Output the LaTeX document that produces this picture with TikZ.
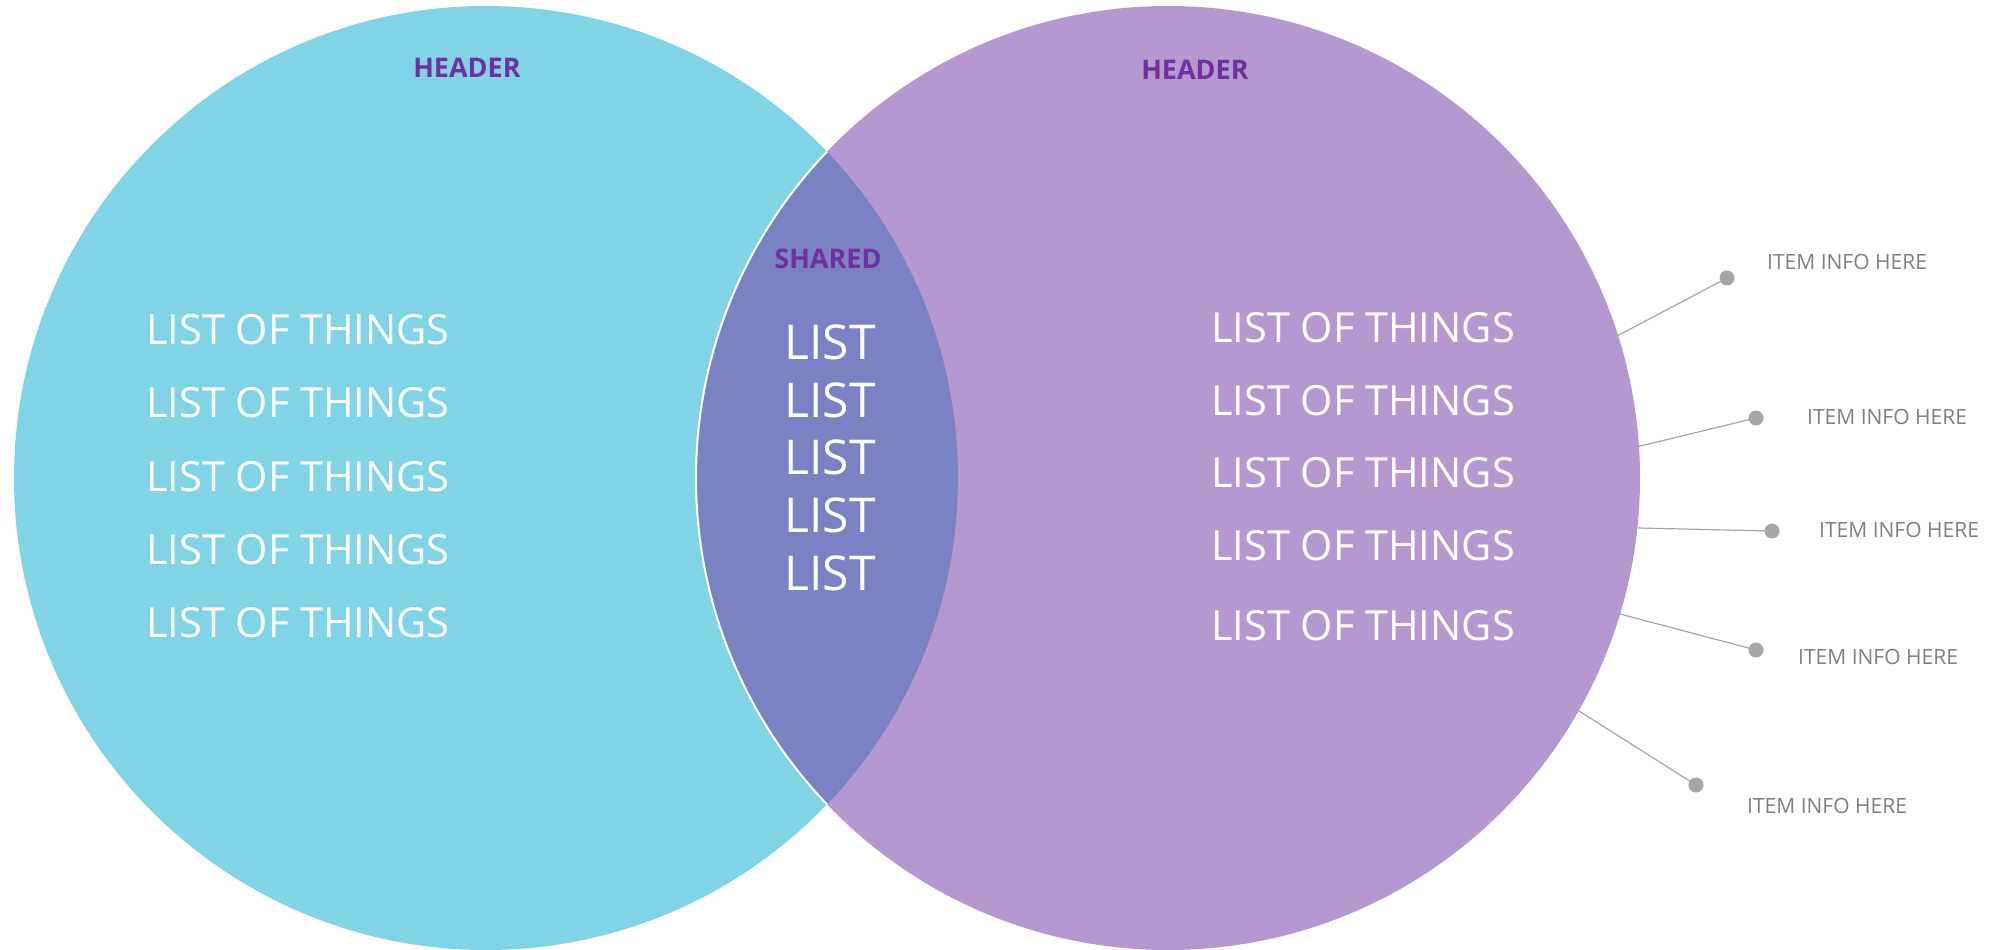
\documentclass[tikz,border=0pt]{standalone}
\usepackage{fontspec}
\setmainfont{Open Sans}
\definecolor{cyanc}{HTML}{81D3E6}
\definecolor{purc}{HTML}{B598CF}
\definecolor{lensc}{HTML}{7A82C3}
\definecolor{headc}{HTML}{7030A0}
\definecolor{dotc}{HTML}{A6A6A6}
\definecolor{itemc}{HTML}{808080}
\tikzset{
  head/.style={inner sep=0, text=headc, font=\fontsize{27}{32}\selectfont\bfseries},
  bigitem/.style={inner sep=0, anchor=west, text=white, font=\fontsize{41.5}{50}\selectfont},
  shareditem/.style={inner sep=0, text=white, font=\fontsize{48}{56}\selectfont},
  info/.style={inner sep=0, anchor=west, text=itemc, font=\fontsize{21}{25}\selectfont},
  dotn/.style={circle, fill=dotc, minimum size=15pt, inner sep=0},
  lead/.style={draw=dotc, line width=1.2pt},
}
\begin{document}
\begin{tikzpicture}[x=1pt,y=-1pt]
\useasboundingbox (0,0) rectangle (2013,950);
\fill[white] (0,0) rectangle (2013,950);
\node[circle, minimum size=944pt, inner sep=0, fill=cyanc] (L) at (486,478) {};
\node[circle, minimum size=944pt, inner sep=0, fill=purc] (R) at (1168,478) {};
\begin{scope}
  \clip (L.center) circle (472);
  \fill[lensc] (R.center) circle (472);
  \draw[white, line width=2pt] (R.center) circle (472);
\end{scope}
% headers
\node[head] (hl) at (467,68) {HEADER};
\node[head] (hr) at (1195,70) {HEADER};
\node[head] (hs) at (828,259) {SHARED};
% left list
\node[bigitem] (l1) at (146,330) {LIST OF THINGS};
\node[bigitem] (l2) at (146,403) {LIST OF THINGS};
\node[bigitem] (l3) at (146,477) {LIST OF THINGS};
\node[bigitem] (l4) at (146,550) {LIST OF THINGS};
\node[bigitem] (l5) at (146,623) {LIST OF THINGS};
% shared list
\node[shareditem] (s1) at (830,342) {LIST};
\node[shareditem] (s2) at (830,400) {LIST};
\node[shareditem] (s3) at (830,457.5) {LIST};
\node[shareditem] (s4) at (830,515) {LIST};
\node[shareditem] (s5) at (830,573) {LIST};
% right list
\node[bigitem] (r1) at (1211,328) {LIST OF THINGS};
\node[bigitem] (r2) at (1211,400.5) {LIST OF THINGS};
\node[bigitem] (r3) at (1211,473) {LIST OF THINGS};
\node[bigitem] (r4) at (1211,546) {LIST OF THINGS};
\node[bigitem] (r5) at (1211,626) {LIST OF THINGS};
% callouts
\coordinate (c1) at (1617,336);
\coordinate (c2) at (1632,448);
\coordinate (c3) at (1638,528);
\coordinate (c4) at (1620,614);
\coordinate (c5) at (1579,711);
\node[dotn] (d1) at (1727,278) {};
\node[dotn] (d2) at (1756,418) {};
\node[dotn] (d3) at (1772,531) {};
\node[dotn] (d4) at (1756,650) {};
\node[dotn] (d5) at (1696,785) {};
\draw[lead] (c1) -- (d1.center);
\draw[lead] (c2) -- (d2.center);
\draw[lead] (c3) -- (d3.center);
\draw[lead] (c4) -- (d4.center);
\draw[lead] (c5) -- (d5.center);
\node[info] (i1) at (1767,262) {ITEM INFO HERE};
\node[info] (i2) at (1807,417) {ITEM INFO HERE};
\node[info] (i3) at (1819,530) {ITEM INFO HERE};
\node[info] (i4) at (1798,657) {ITEM INFO HERE};
\node[info] (i5) at (1747,806) {ITEM INFO HERE};
\end{tikzpicture}
\end{document}
